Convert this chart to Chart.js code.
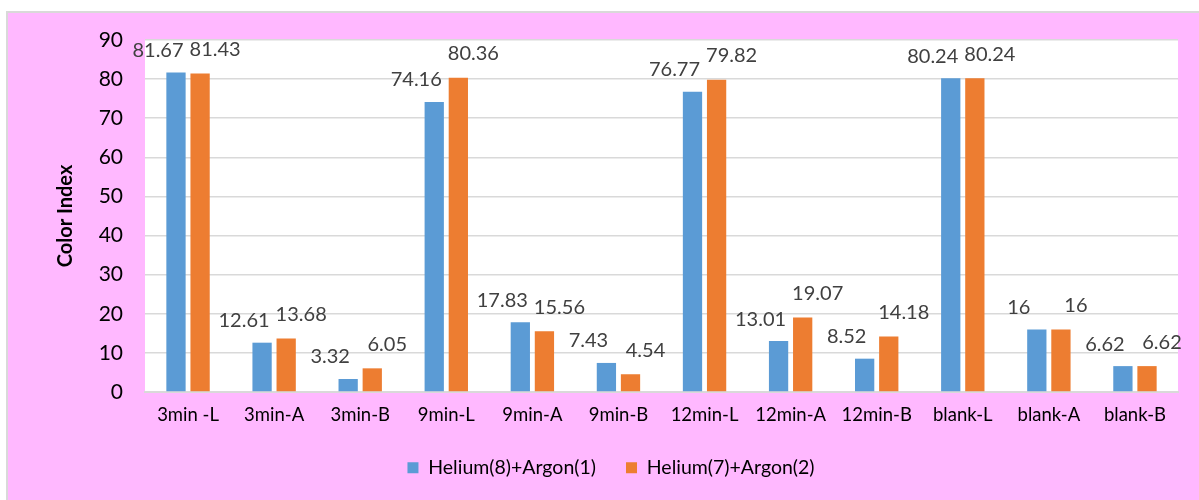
<!DOCTYPE html>
<html>
<head>
<meta charset="utf-8">
<script src="https://cdn.jsdelivr.net/npm/chart.js@4.4.1/dist/chart.umd.min.js"></script>
<style>
  html, body { margin: 0; padding: 0; background: #ffffff; }
  #wrap { position: relative; width: 1199px; height: 500px; }
</style>
</head>
<body>
<div id="wrap"><canvas id="chart"></canvas></div>
<script>
// chart data
const categories = ["3min -L", "3min-A", "3min-B", "9min-L", "9min-A", "9min-B",
  "12min-L", "12min-A", "12min-B", "blank-L", "blank-A", "blank-B"];
const helium8Argon1 = [81.67, 12.61, 3.32, 74.16, 17.83, 7.43, 76.77, 13.01, 8.52, 80.24, 16, 6.62];
const helium7Argon2 = [81.43, 13.68, 6.05, 80.36, 15.56, 4.54, 79.82, 19.07, 14.18, 80.24, 16, 6.62];
const seriesNames = ["Helium(8)+Argon(1)", "Helium(7)+Argon(2)"];
const yMin = 0, yMax = 90, yStep = 10;

const FONT = "Lato, 'Noto Sans', sans-serif";

// pink chart background + white plot area, legend placement tweaks
const backgroundPlugin = {
  id: "backgroundPlugin",
  beforeLayout(chart) {
    const lg = chart.legend;
    if (lg && !lg._fixedHeight) {
      const fit = lg.fit;
      lg.fit = function () {
        fit.call(this);
        this.height = 72;
      };
      lg._fixedHeight = true;
    }
  },
  afterLayout(chart) {
    // legend sits a bit right of centre in the original
    if (chart.legend) {
      chart.legend.left += 22;
      chart.legend.right += 22;
    }
  },
  beforeDraw(chart) {
    const { ctx, chartArea, width, height } = chart;
    ctx.save();
    ctx.fillStyle = "#ffffff";
    ctx.fillRect(0, 0, width, height);
    ctx.fillStyle = "#FFB8FF";
    ctx.fillRect(7, 12, width - 7, height - 12);
    ctx.strokeStyle = "#D9D9D9";
    ctx.lineWidth = 2;
    ctx.beginPath();
    ctx.moveTo(7, height);
    ctx.lineTo(7, 12);
    ctx.lineTo(width, 12);
    ctx.stroke();
    ctx.fillStyle = "#ffffff";
    ctx.fillRect(chartArea.left, chartArea.top, chartArea.right - chartArea.left, chartArea.bottom - chartArea.top);
    ctx.restore();
  }
};

// value labels above bars
const valueLabels = {
  id: "valueLabels",
  afterDatasetsDraw(chart) {
    const { ctx } = chart;
    const shift = [{ dx: -18, dy: -22 }, { dx: 15, dy: -24 }];
    ctx.save();
    ctx.font = "20px " + FONT;
    ctx.fillStyle = "#404040";
    ctx.textAlign = "center";
    ctx.textBaseline = "middle";
    chart.data.datasets.forEach((ds, i) => {
      const meta = chart.getDatasetMeta(i);
      meta.data.forEach((bar, j) => {
        ctx.fillText(String(ds.data[j]), bar.x + shift[i].dx, bar.y + shift[i].dy);
      });
    });
    ctx.restore();
  }
};

new Chart(document.getElementById("chart"), {
  type: "bar",
  data: {
    labels: categories,
    datasets: [
      {
        label: seriesNames[0],
        data: helium8Argon1,
        backgroundColor: "#5B9BD5",
        borderWidth: 0,
        barPercentage: 0.8,
        categoryPercentage: 0.56
      },
      {
        label: seriesNames[1],
        data: helium7Argon2,
        backgroundColor: "#ED7D31",
        borderWidth: 0,
        barPercentage: 0.8,
        categoryPercentage: 0.56
      }
    ]
  },
  options: {
    responsive: true,
    maintainAspectRatio: false,
    animation: false,
    layout: { padding: { top: 40, right: 21, left: 0, bottom: 0 } },
    scales: {
      x: {
        grid: { display: false, drawTicks: false },
        border: { display: true, color: "#D9D9D9", width: 2 },
        ticks: { color: "#000000", font: { family: FONT, size: 18.5 }, padding: 12, maxRotation: 0, autoSkip: false },
        afterFit(scale) { scale.height = 36; }
      },
      y: {
        min: yMin,
        max: yMax,
        ticks: { stepSize: yStep, color: "#000000", font: { family: FONT, size: 21 }, padding: 22 },
        grid: { color: "#D9D9D9", lineWidth: 1.5, drawTicks: false },
        border: { display: false },
        title: {
          display: true,
          text: "Color Index",
          color: "#000000",
          font: { family: FONT, size: 20, weight: "bold" },
          padding: { top: 54, bottom: 0 }
        },
        afterFit(scale) { scale.width = 145; }
      }
    },
    plugins: {
      legend: {
        position: "bottom",
        labels: {
          color: "#000000",
          font: { family: FONT, size: 19.5 },
          boxWidth: 11,
          boxHeight: 11,
          padding: 30
        }
      },
      tooltip: { enabled: false }
    }
  },
  plugins: [backgroundPlugin, valueLabels]
});
</script>
</body>
</html>
